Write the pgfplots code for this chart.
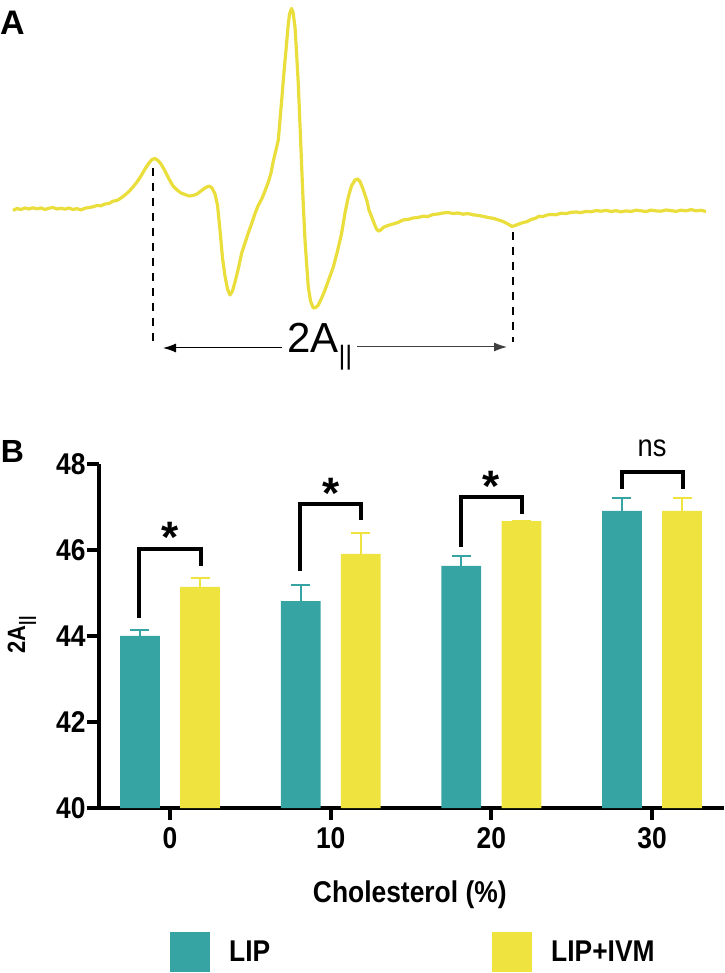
\documentclass[border=0pt]{standalone}
\usepackage{fontspec}
\setmainfont{Liberation Sans}
\newfontfamily\cnd{Liberation Sans}[FakeStretch=0.88]
\usepackage{pgfplots}
\usepackage{pgfplotstable}
\pgfplotsset{compat=1.18}
\usetikzlibrary{arrows.meta}

\definecolor{lipteal}{RGB}{55,164,164}
\definecolor{ivmyellow}{RGB}{239,227,64}
\definecolor{epryellow}{RGB}{233,222,60}

\newcommand{\fs}[1]{\fontsize{#1}{#1}\selectfont}

% EPR spectrum: field position (px units) vs. first-derivative signal
\pgfplotstableread{
field signal
13 -0.5
17 1.5
21 0.5
25 2
29 1
33 2.2
37 1.2
41 2
45 0.5
49 1.8
53 2.5
57 1
61 1.7
65 0.8
69 2
73 0.5
77 1.4
81 0
85 1.8
89 2.4
93 3.2
97 4.5
101 4.2
105 6
109 6.5
113 8.8
117 9.5
121 12
125 15
129 18.5
133 23
137 28
141 34
145 41
149 47
152 50.5
155 51.5
158 49.5
161 46
165 39
169 31
173 24
177 20
181 17
185 15.5
189 14
193 14.5
197 16
201 19
205 22
209 24
212 22
215 16
217.5 5
220 -20
222.5 -48
225 -66
227.5 -79
230 -85
232.5 -81
235 -72
238 -60
241.7 -43
245 -33
248.3 -23
251.5 -14
255 -3.5
258 4
261.7 11
265 19
268.3 28
271 37
273.3 49
276 60
278.3 70
280 90
281.7 110
284 138
286 160
288 183
289.5 196
291.5 201.5
293 198
295 183
296.7 155
298.3 126
300 85
301.7 43
303.3 5
305 -30
306.7 -55
308.3 -77
310.5 -91
313.3 -98
316 -97.5
318.3 -95
321.7 -88
325 -80
329 -69
333.3 -57
337.5 -41
341.7 -23
345 -3
348.3 13
351.5 24
355 30
357.5 31
360 28.5
363 21
366.7 10
369 0
371.7 -7
374 -13
376 -18
378.3 -21
380 -20.5
384 -17
388 -15.5
393 -14
398 -12.5
403 -10
408 -9.5
413 -8
418 -7.5
423 -6.2
428 -6.5
433 -4.5
438 -4
443 -3
448 -2.5
453 -3.5
458 -3
463 -4.2
468 -3.6
473 -4.8
478 -5.4
483 -6.3
488 -7.5
493 -8.3
498 -9.8
503 -11.5
508 -14
512 -16.5
515 -15.5
519 -14
523 -12.5
527 -11.7
531 -9.5
535 -8.5
539 -6.3
543 -6.5
547 -5
551 -4.5
556 -4.8
561 -3.2
566 -3.6
571 -2.4
576 -2
581 -2.6
586 -1.4
591 -1.8
596 -0.6
601 -1.2
606 -0.4
611 -1.5
616 -0.7
621 -1.8
626 -0.9
631 -1.5
636 -0.2
641 -0.8
646 -1.6
651 -0.1
656 -0.9
661 -1.2
666 0
671 -0.6
676 -1.4
681 -0.2
686 -0.9
691 0.4
696 -0.8
701 -0.3
706 -1.5
}\eprdata

% 2A|| versus cholesterol content (mean, upper SD)
\pgfplotstableread{
x y e
0 44.00 0.15
1 44.81 0.37
2 45.63 0.22
3 46.91 0.29
}\lipdata
\pgfplotstableread{
x y e
0 45.14 0.21
1 45.91 0.49
2 46.67 0.00
3 46.91 0.29
}\ivmdata

\pgfplotsset{
  sqlegend/.style={legend image code/.code={%
    \draw[##1, draw=none] (0bp,-20bp) rectangle (40bp,20bp);}},
}

\begin{document}
\begin{tikzpicture}
\path[use as bounding box] (0,0) rectangle (725bp,973bp);

% ---------- panel A: spectrum ----------
\begin{axis}[
  at={(0,0)}, anchor=south west,
  x=1bp, y=1bp,
  xmin=0, xmax=725, ymin=-763, ymax=210,
  hide axis, clip=false,
]
\addplot[epryellow, line width=3.2bp, line join=round, mark=none] table[x=field, y=signal] {\eprdata};
\draw[black, line width=2bp, dash pattern=on 8bp off 7bp] (axis cs:153,42) -- (axis cs:153,-132);
\draw[black, line width=2bp, dash pattern=on 8bp off 7bp] (axis cs:513,-22) -- (axis cs:513,-132);
\draw[black, line width=1bp, -{Latex[length=13bp,width=9bp]}] (axis cs:282,-138) -- (axis cs:163,-138);
\draw[black!75, line width=1bp, -{Latex[length=13bp,width=9bp]}] (axis cs:357,-137) -- (axis cs:507,-137);
\node[anchor=base west, inner sep=0pt] at (axis cs:287,-143)
  {\fs{42bp}2A\raisebox{-11.5bp}{\fs{26.6bp}||}};
\end{axis}

\node[anchor=center, inner sep=0pt] at (12.5bp,950.5bp) {\fs{34bp}\bfseries A};
\node[anchor=center, inner sep=0pt] at (12.5bp,522bp) {\fs{32bp}\bfseries B};

% ---------- panel B: bar chart ----------
\begin{axis}[
  at={(99bp,165bp)}, anchor=south west,
  x=160.67bp, y=43bp,
  xmin=-0.442, xmax=3.45, ymin=40, ymax=48,
  enlargelimits=false, clip=false,
  ybar, bar width=0.2476,
  axis lines*=left,
  axis line style={line width=4bp, black},
  tick align=outside,
  major tick length=12bp,
  tick style={line width=4bp, black},
  xtick={0,1,2,3}, xticklabels={0,10,20,30},
  ytick={40,42,44,46,48},
  /pgf/number format/assume math mode=true,
  tick label style={font=\cnd\fs{30bp}\bfseries},
  yticklabel style={xshift=2bp},
  xticklabel style={yshift=-4bp},
  xlabel={Cholesterol (\%)},
  xlabel style={font=\cnd\fs{30bp}\bfseries, at={(axis description cs:0.497,-0.253)}, anchor=center},
  ylabel={2A\raisebox{-7bp}{\fs{18bp}||}},
  ylabel style={font=\cnd\fs{25bp}\bfseries, at={(axis description cs:-0.1183,0.503)}, anchor=base},
  legend columns=2,
  legend style={
    at={(axis description cs:0.1135,-0.4186)}, anchor=west,
    draw=none, fill=none, inner sep=0pt,
    font=\cnd\fs{30bp}\bfseries,
    nodes={inner sep=0pt},
    /tikz/every odd column/.append style={column sep=19bp},
    /tikz/every even column/.append style={column sep=222bp},
  },
  legend cell align=left,
]
\addplot[fill=lipteal, draw=none, bar shift=-0.187, sqlegend,
  error bars/.cd, y dir=plus, y explicit,
  error bar style={line width=2bp, lipteal},
  error mark options={rotate=90, mark size=9.5bp, line width=2bp, lipteal}]
  table[x=x, y=y, y error=e] {\lipdata};
\addlegendentry{LIP}
\addplot[fill=ivmyellow, draw=none, bar shift=0.187, sqlegend,
  error bars/.cd, y dir=plus, y explicit,
  error bar style={line width=2bp, ivmyellow},
  error mark options={rotate=90, mark size=9.5bp, line width=2bp, ivmyellow}]
  table[x=x, y=y, y error=e] {\ivmdata};
\addlegendentry{LIP+IVM}

% significance brackets
\draw[line width=4bp, line join=miter] (axis cs:-0.19,44.41) |- (axis cs:0.19,46.02) -- (axis cs:0.19,45.62);
\draw[line width=4bp, line join=miter] (axis cs:0.81,45.51) |- (axis cs:1.19,47.08) -- (axis cs:1.19,46.70);
\draw[line width=4bp, line join=miter] (axis cs:1.81,46.08) |- (axis cs:2.19,47.23) -- (axis cs:2.19,46.84);
\draw[line width=4bp, line join=miter] (axis cs:2.81,47.42) |- (axis cs:3.19,47.81) -- (axis cs:3.19,47.42);
\node[anchor=north, inner sep=0pt] at (axis cs:0,46.64) {\fs{44bp}\bfseries *};
\node[anchor=north, inner sep=0pt] at (axis cs:1,47.68) {\fs{44bp}\bfseries *};
\node[anchor=north, inner sep=0pt] at (axis cs:2,47.83) {\fs{44bp}\bfseries *};
\node[anchor=base, inner sep=0pt] at (axis cs:3,48.18) {\cnd\fs{31bp}ns};
\end{axis}
\end{tikzpicture}
\end{document}
